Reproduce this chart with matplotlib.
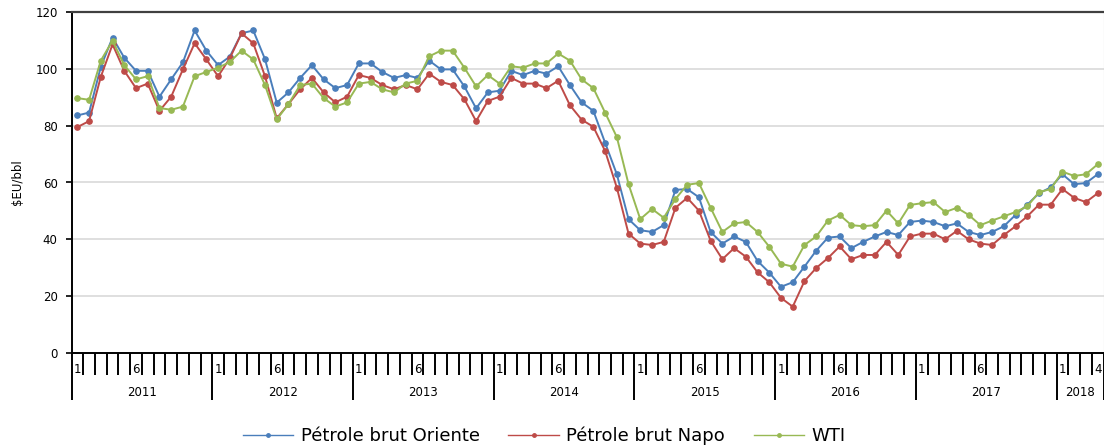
import matplotlib
matplotlib.use("Agg")
import matplotlib.pyplot as plt
from matplotlib.lines import Line2D

plt.rcParams['font.family'] = ['DejaVu Sans']

# monthly values, Jan 2011 .. Apr 2018
years = ["2011", "2012", "2013", "2014", "2015", "2016", "2017", "2018"]
months_in_year = [12, 12, 12, 12, 12, 12, 12, 4]

oriente = [83.6, 84.6, 100.7, 111.0, 103.9, 99.3, 99.3, 90.2, 96.3, 102.3, 113.5, 106.4,
           101.3, 104.3, 112.5, 113.5, 103.4, 88.1, 91.7, 96.8, 101.3, 96.3, 93.2, 94.3,
           101.9, 101.9, 98.9, 96.8, 97.8, 96.8, 102.9, 99.8, 99.8, 93.8, 86.1, 91.7,
           92.3, 99.3, 97.8, 99.3, 98.3, 100.9, 94.3, 88.2, 85.2, 74.0, 62.9, 47.1,
           43.2, 42.6, 45.0, 57.4, 57.7, 54.8, 42.6, 38.5, 41.0, 39.1, 32.4, 28.3,
           23.3, 24.9, 30.4, 36.0, 40.6, 41.0, 36.9, 39.1, 41.0, 42.6, 41.5, 46.1,
           46.6, 46.1, 44.6, 45.6, 42.6, 41.5, 42.6, 44.6, 48.6, 52.2, 56.2, 58.3,
           62.9, 59.4, 59.8, 62.9]

napo = [79.5, 81.6, 97.2, 108.6, 99.3, 93.2, 94.8, 85.2, 90.2, 99.8, 109.0, 103.3,
        97.4, 103.7, 112.5, 109.0, 97.4, 82.6, 87.6, 92.8, 96.8, 91.7, 88.2, 90.2,
        97.8, 96.8, 94.3, 92.8, 94.3, 92.8, 98.3, 95.4, 94.3, 89.3, 81.6, 88.7,
        90.2, 96.8, 94.8, 94.8, 93.2, 95.8, 87.2, 82.1, 79.6, 71.1, 58.2, 42.0,
        38.5, 38.0, 39.1, 51.1, 54.6, 50.1, 39.5, 33.0, 36.9, 33.9, 28.4, 24.9,
        19.4, 16.3, 25.3, 29.9, 33.4, 37.5, 33.0, 34.5, 34.5, 39.1, 34.5, 41.0,
        42.0, 42.0, 40.0, 43.0, 40.0, 38.5, 38.0, 41.5, 44.6, 48.1, 52.2, 52.2,
        57.7, 54.6, 53.1, 56.2]

wti = [89.7, 89.1, 102.9, 109.9, 101.3, 96.3, 97.4, 86.2, 85.6, 86.7, 97.4, 98.9,
       100.4, 102.4, 106.4, 103.3, 94.3, 82.2, 87.6, 94.3, 94.8, 89.7, 86.7, 88.2,
       94.8, 95.4, 92.8, 91.7, 94.8, 95.8, 104.4, 106.4, 106.4, 100.4, 93.8, 97.8,
       94.8, 100.9, 100.4, 101.9, 101.9, 105.4, 102.9, 96.3, 93.2, 84.6, 76.0, 59.4,
       47.1, 50.7, 47.6, 54.2, 59.2, 59.8, 51.1, 42.6, 45.6, 46.1, 42.6, 37.4,
       31.4, 30.4, 38.0, 41.0, 46.6, 48.6, 45.0, 44.6, 45.0, 50.1, 45.6, 52.1,
       52.7, 53.1, 49.6, 51.1, 48.6, 45.0, 46.6, 48.1, 49.6, 51.6, 56.6, 57.7,
       63.8, 62.3, 62.9, 66.4]

series_names = ["Pétrole brut Oriente", "Pétrole brut Napo", "WTI"]
colors = ["#4a7ebb", "#be4b48", "#98b954"]

n = len(oriente)
x = list(range(n))

fig = plt.figure(figsize=(11.04, 4.48), dpi=100)
ax = fig.add_axes([71.5 / 1104, 1 - 353 / 448, 1032 / 1104, 341 / 448])

for vals, c in zip([oriente, napo, wti], colors):
    ax.plot(x, vals, color=c, lw=1.4, marker="o", ms=3.8, mec=c, mfc=c, zorder=3)

ax.set_xlim(-0.5, n - 0.5)
ax.set_ylim(0, 120)
ax.set_yticks(range(0, 121, 20))
ax.tick_params(axis="y", direction="out", length=4, width=1.2, labelsize=8.5,
               pad=6, colors="black")
ax.grid(axis="y", color="#dcdcdc", lw=1.3, zorder=0)
ax.set_ylabel("$EU/bbl", fontsize=8.5, labelpad=8)

for s in ["left", "bottom"]:
    ax.spines[s].set_color("black")
    ax.spines[s].set_linewidth(1.4)
ax.spines["top"].set_color("#404040")
ax.spines["top"].set_linewidth(1.6)
ax.spines["right"].set_color("#bfbfbf")
ax.spines["right"].set_linewidth(0.8)

# category boundaries: short ticks for months, long ones for years
year_starts = [0]
for m in months_in_year:
    year_starts.append(year_starts[-1] + m)
boundaries = [b - 0.5 for b in range(n + 1)]
year_bounds = [b - 0.5 for b in year_starts]
month_bounds = [b for b in boundaries if b not in year_bounds]

ax.set_xticks(year_bounds)
ax.set_xticklabels([])
ax.set_xticks(month_bounds, minor=True)
ax.tick_params(axis="x", which="major", direction="out", length=34, width=1.4,
               colors="black")
ax.tick_params(axis="x", which="minor", direction="out", length=16, width=1.4,
               colors="black")

# month labels 1 / 6 (and 4 for the last month)
month_labels = []
for yi, m in enumerate(months_in_year):
    start = year_starts[yi]
    month_labels.append((start, "1"))
    if m >= 6:
        month_labels.append((start + 5, "6"))
    else:
        month_labels.append((start + m - 1, str(m)))
for xi, lab in month_labels:
    ax.annotate(lab, xy=(xi, 0), xycoords=("data", "axes fraction"),
                xytext=(0, -12), textcoords="offset points",
                ha="center", va="center", fontsize=8.5)

for yi, yr in enumerate(years):
    mid = (year_starts[yi] + year_starts[yi + 1] - 1) / 2
    ax.annotate(yr, xy=(mid, 0), xycoords=("data", "axes fraction"),
                xytext=(0, -28.5), textcoords="offset points",
                ha="center", va="center", fontsize=8.5)

handles = [Line2D([0], [0], color=c, lw=1.0, marker="o", ms=2.5) for c in colors]
fig.legend(handles, series_names, loc="center", bbox_to_anchor=(0.493, 1 - 436 / 448),
           ncol=3, frameon=False, fontsize=13, handlelength=2.8, handletextpad=0.4,
           columnspacing=1.6)

fig.savefig("out.png", dpi=100)
